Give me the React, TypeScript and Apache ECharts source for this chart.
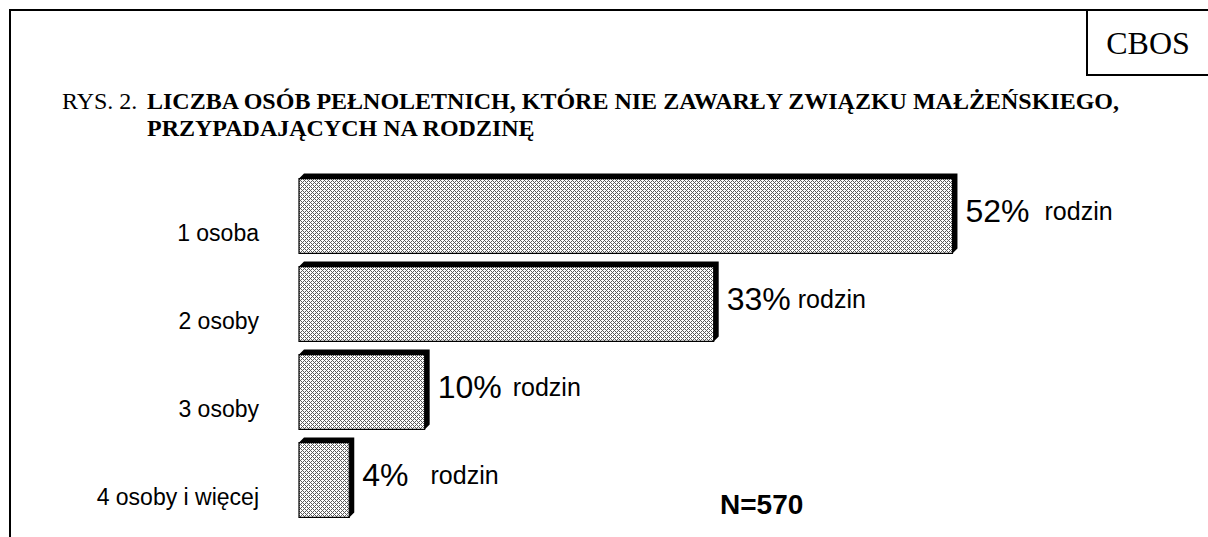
import React, { useEffect, useRef } from "react";
import * as echarts from "echarts";

const categories = ["1 osoba", "2 osoby", "3 osoby", "4 osoby i więcej"];
const values = [52, 33, 10, 4];
const unitLabel = "rodzin";
const sampleNote = "N=570";
const titlePrefix = "RYS. 2.";
const titleLine1 = "LICZBA OSÓB PEŁNOLETNICH, KTÓRE NIE ZAWARŁY ZWIĄZKU MAŁŻEŃSKIEGO,";
const titleLine2 = "PRZYPADAJĄCYCH NA RODZINĘ";
const sourceLabel = "CBOS";
const labelGaps = [15, 7, 11, 22];

function makePattern() {
  const c = document.createElement("canvas");
  c.width = 4;
  c.height = 4;
  const ctx = c.getContext("2d")!;
  ctx.fillStyle = "#ffffff";
  ctx.fillRect(0, 0, 4, 4);
  ctx.fillStyle = "#5a5a5a";
  for (let y = 0; y < 4; y++) {
    for (let x = 0; x < 4; x++) {
      if (x % 4 === y % 4 || x % 4 === (4 - y) % 4) ctx.fillRect(x, y, 1, 1);
    }
  }
  return c;
}

export default function App() {
  const ref = useRef<HTMLDivElement>(null);
  useEffect(() => {
    if (!ref.current) return;
    const chart = echarts.init(ref.current, null, { renderer: "svg" });
    const canvas = makePattern();
    const pattern: any = {
      image: canvas,
      repeat: "repeat",
      imageWidth: 4,
      imageHeight: 4,
    };
    const rich: any = {
      p: { fontSize: 32, fontFamily: "Liberation Sans, Arial", color: "#000" },
    };
    labelGaps.forEach((g, i) => {
      rich["r" + i] = {
        fontSize: 25,
        fontFamily: "Liberation Sans, Arial",
        color: "#000",
        padding: [0, 0, 0, g],
      };
    });
    const d = 5;
    const option: any = {
      animation: false,
      backgroundColor: "#ffffff",
      grid: { left: 299, top: 172, width: 754, height: 352, containLabel: false },
      xAxis: {
        type: "value",
        min: 0,
        max: 60,
        show: false,
      },
      yAxis: {
        type: "category",
        data: categories,
        inverse: true,
        axisLine: { show: false },
        axisTick: { show: false },
        splitLine: { show: false },
        axisLabel: {
          margin: 40,
          formatter: (v: string) => `{a|${v}}`,
          rich: {
            a: {
              fontSize: 23,
              fontFamily: "Liberation Sans, Arial",
              color: "#000",
              padding: [34, 0, 0, 0],
            },
          },
        },
      },
      series: [
        {
          type: "custom",
          data: values.map((v, i) => [v, i]),
          encode: { x: 0, y: 1 },
          renderItem: (params: any, api: any) => {
            const v = api.value(0);
            const idx = api.value(1);
            const p0 = api.coord([0, idx]);
            const p1 = api.coord([v, idx]);
            const h = api.size([0, 1])[1] * 0.85;
            const x0 = p0[0];
            const x1 = p1[0];
            const y0 = p0[1] - h / 2;
            const y1 = p0[1] + h / 2;
            return {
              type: "group",
              children: [
                {
                  type: "polygon",
                  shape: {
                    points: [
                      [x0, y0],
                      [x0 + d, y0 - d],
                      [x1 + d, y0 - d],
                      [x1 + d, y1 - d],
                      [x1, y1],
                      [x1, y0],
                    ],
                  },
                  style: { fill: "#000" },
                },
                {
                  type: "rect",
                  shape: { x: x0, y: y0, width: x1 - x0, height: y1 - y0 },
                  style: { fill: pattern, stroke: "#000", lineWidth: 1.2 },
                },
                {
                  type: "text",
                  x: x1 + d + 8,
                  y: p0[1] - 5,
                  style: {
                    text: `{p|${v}%}{r${params.dataIndex}|${unitLabel}}`,
                    rich,
                    verticalAlign: "middle",
                    align: "left",
                  },
                },
              ],
            };
          },
        },
      ],
      graphic: [
        {
          type: "polyline",
          shape: { points: [[10, 545], [10, 10], [1215, 10]] },
          style: { stroke: "#000", lineWidth: 2, fill: "none" },
        },
        {
          type: "polyline",
          shape: { points: [[1087, 10], [1087, 75], [1215, 75]] },
          style: { stroke: "#000", lineWidth: 2, fill: "none" },
        },
        {
          type: "text",
          x: 1148,
          y: 43,
          style: {
            text: sourceLabel,
            fontFamily: "Liberation Serif, Times New Roman",
            fontSize: 32,
            fill: "#000",
            align: "center",
            verticalAlign: "middle",
          },
        },
        {
          type: "text",
          x: 62,
          y: 101,
          style: {
            text: titlePrefix,
            fontFamily: "Liberation Serif, Times New Roman",
            fontSize: 24,
            fill: "#000",
            align: "left",
            verticalAlign: "middle",
          },
        },
        {
          type: "text",
          x: 147,
          y: 101,
          style: {
            text: titleLine1,
            fontFamily: "Liberation Serif, Times New Roman",
            fontWeight: "bold",
            fontSize: 24,
            fill: "#000",
            align: "left",
            verticalAlign: "middle",
          },
        },
        {
          type: "text",
          x: 147,
          y: 128,
          style: {
            text: titleLine2,
            fontFamily: "Liberation Serif, Times New Roman",
            fontWeight: "bold",
            fontSize: 24,
            fill: "#000",
            align: "left",
            verticalAlign: "middle",
          },
        },
        {
          type: "text",
          x: 720,
          y: 504,
          style: {
            text: sampleNote,
            fontFamily: "Liberation Sans, Arial",
            fontWeight: "bold",
            fontSize: 28,
            fill: "#000",
            align: "left",
            verticalAlign: "middle",
          },
        },
      ],
    };
    chart.setOption(option);
    return () => chart.dispose();
  }, []);
  return (
    <div
      ref={ref}
      style={{ position: "fixed", left: 0, top: 0, width: 1208, height: 537, background: "#fff" }}
    />
  );
}
